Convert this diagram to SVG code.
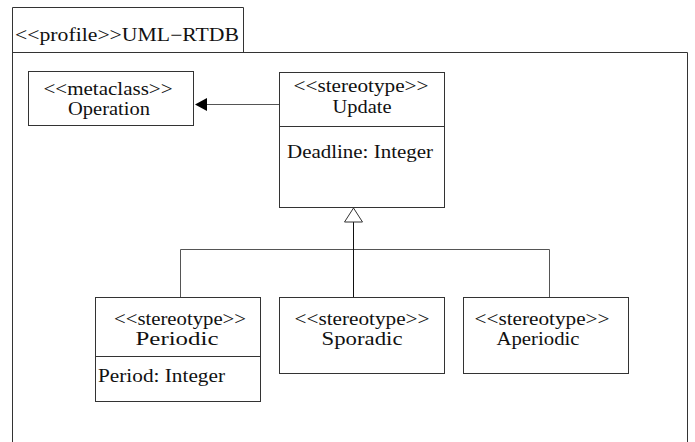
<svg xmlns="http://www.w3.org/2000/svg" width="695" height="442" viewBox="0 0 695 442">
<style>
text{font-family:"Liberation Serif","Times New Roman",serif;font-size:18px;fill:#111}
.m{text-anchor:middle}
.box{fill:#fff;stroke:#333;stroke-width:1}
.ln{fill:none;stroke:#555;stroke-width:1}
</style>
<rect width="695" height="442" fill="#fff"/>
<g id="frame">
<path class="box" d="M12.5,445 V7.5 H243.5 V52.5 M12.5,52.5 H687.5 V445" fill="none"/>
<text x="15" y="41" textLength="224" lengthAdjust="spacingAndGlyphs">&lt;&lt;profile&gt;&gt;UML−RTDB</text>
</g>
<g id="connectors">
<path class="ln" d="M279,104.5 H206"/>
<polygon points="195,104.5 207,98 207,111" fill="#000"/>
<path class="ln" d="M180.5,297 V249.5 H549.5 V297"/>
<path d="M353.5,222 V297" stroke="#111" fill="none"/>
<polygon points="353.5,208 344.5,222 362.5,222" fill="#fff" stroke="#333"/>
</g>
<g id="operation">
<rect class="box" x="28.5" y="71.5" width="165" height="54"/>
<text class="m" x="108" y="95" textLength="129" lengthAdjust="spacingAndGlyphs">&lt;&lt;metaclass&gt;&gt;</text>
<text class="m" x="109" y="115" textLength="82" lengthAdjust="spacingAndGlyphs">Operation</text>
</g>
<g id="update">
<rect class="box" x="279.5" y="72.5" width="165" height="135"/>
<path class="box" d="M279.5,126.5 H444.5"/>
<text class="m" x="361" y="92" textLength="135" lengthAdjust="spacingAndGlyphs">&lt;&lt;stereotype&gt;&gt;</text>
<text class="m" x="362" y="113" textLength="59" lengthAdjust="spacingAndGlyphs">Update</text>
<text x="287" y="158" textLength="146" lengthAdjust="spacingAndGlyphs">Deadline: Integer</text>
</g>
<g id="periodic">
<rect class="box" x="95.5" y="297.5" width="165" height="104"/>
<path class="box" d="M95.5,356.5 H260.5"/>
<text class="m" x="180" y="325" textLength="132" lengthAdjust="spacingAndGlyphs">&lt;&lt;stereotype&gt;&gt;</text>
<text class="m" x="177" y="345" textLength="83" lengthAdjust="spacingAndGlyphs">Periodic</text>
<text x="98" y="382" textLength="127" lengthAdjust="spacingAndGlyphs">Period: Integer</text>
</g>
<g id="sporadic">
<rect class="box" x="279.5" y="297.5" width="165" height="76"/>
<text class="m" x="362" y="325" textLength="135" lengthAdjust="spacingAndGlyphs">&lt;&lt;stereotype&gt;&gt;</text>
<text class="m" x="362" y="345" textLength="81" lengthAdjust="spacingAndGlyphs">Sporadic</text>
</g>
<g id="aperiodic">
<rect class="box" x="463.5" y="297.5" width="165" height="76"/>
<text class="m" x="542" y="325" textLength="135" lengthAdjust="spacingAndGlyphs">&lt;&lt;stereotype&gt;&gt;</text>
<text class="m" x="538" y="345" textLength="83" lengthAdjust="spacingAndGlyphs">Aperiodic</text>
</g>
</svg>
